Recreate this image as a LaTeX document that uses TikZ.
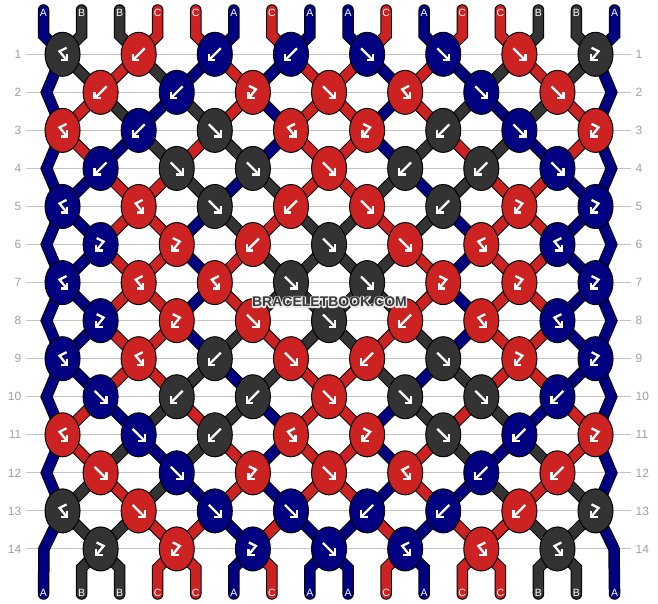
\documentclass[tikz,border=0pt]{standalone}
\usepackage{fontspec}
\setmainfont{Liberation Sans}
\usetikzlibrary{shapes.geometric}
\pgfdeclarelayer{lines}
\pgfdeclarelayer{threads}
\pgfsetlayers{lines,threads,main}
\definecolor{colA}{RGB}{0,0,128}
\definecolor{colB}{RGB}{51,51,51}
\definecolor{colC}{RGB}{204,34,34}
\definecolor{rowgray}{RGB}{196,196,196}
\definecolor{numgray}{RGB}{160,160,160}
\definecolor{wmgray}{RGB}{58,58,58}
\definecolor{wmhalo}{RGB}{232,232,232}

\expandafter\def\csname Srow0\endcsname{A,B,B,C,C,A,C,A,A,C,A,C,C,B,B,A}
\expandafter\def\csname Srow1\endcsname{A,B,C,B,A,C,A,C,C,A,C,A,B,C,B,A}
\expandafter\def\csname Srow2\endcsname{A,C,B,A,B,C,A,C,C,A,C,B,A,B,C,A}
\expandafter\def\csname Srow3\endcsname{A,C,A,B,C,B,A,C,C,A,B,C,B,A,C,A}
\expandafter\def\csname Srow4\endcsname{A,A,C,C,B,A,B,C,C,B,A,B,C,C,A,A}
\expandafter\def\csname Srow5\endcsname{A,A,C,C,A,B,C,B,B,C,B,A,C,C,A,A}
\expandafter\def\csname Srow6\endcsname{A,A,C,C,A,C,B,B,B,B,C,A,C,C,A,A}
\expandafter\def\csname Srow7\endcsname{A,A,C,C,A,C,B,B,B,B,C,A,C,C,A,A}
\expandafter\def\csname Srow8\endcsname{A,A,C,C,A,B,C,B,B,C,B,A,C,C,A,A}
\expandafter\def\csname Srow9\endcsname{A,A,C,C,B,A,B,C,C,B,A,B,C,C,A,A}
\expandafter\def\csname Srow10\endcsname{A,C,A,B,C,B,A,C,C,A,B,C,B,A,C,A}
\expandafter\def\csname Srow11\endcsname{A,C,B,A,B,C,A,C,C,A,C,B,A,B,C,A}
\expandafter\def\csname Srow12\endcsname{A,B,C,B,A,C,A,C,C,A,C,A,B,C,B,A}
\expandafter\def\csname Srow13\endcsname{A,B,B,C,C,A,C,A,A,C,A,C,C,B,B,A}

\expandafter\def\csname Krow1\endcsname{B/bf,C/b,A/b,A/b,A/f,A/f,C/f,B/fb}
\expandafter\def\csname Krow2\endcsname{C/b,A/b,C/fb,C/f,C/bf,A/f,C/f}
\expandafter\def\csname Krow3\endcsname{C/bf,A/b,B/f,C/bf,C/fb,B/b,A/f,C/fb}
\expandafter\def\csname Krow4\endcsname{A/b,B/f,B/f,C/f,B/b,B/b,A/f}
\expandafter\def\csname Krow5\endcsname{A/bf,C/bf,B/f,C/b,C/f,B/b,C/fb,A/fb}
\expandafter\def\csname Krow6\endcsname{A/fb,C/fb,C/b,B/f,C/f,C/bf,A/bf}
\expandafter\def\csname Krow7\endcsname{A/bf,C/bf,C/bf,B/f,B/f,C/fb,C/fb,A/fb}
\expandafter\def\csname Krow8\endcsname{A/fb,C/fb,C/f,B/f,C/b,C/bf,A/bf}
\expandafter\def\csname Krow9\endcsname{A/bf,C/bf,B/b,C/f,C/b,B/f,C/fb,A/fb}
\expandafter\def\csname Krow10\endcsname{A/f,B/b,B/b,C/f,B/f,B/f,A/b}
\expandafter\def\csname Krow11\endcsname{C/bf,A/f,B/b,C/bf,C/fb,B/f,A/b,C/fb}
\expandafter\def\csname Krow12\endcsname{C/f,A/f,C/fb,C/f,C/bf,A/b,C/b}
\expandafter\def\csname Krow13\endcsname{B/bf,C/f,A/f,A/f,A/b,A/b,C/b,B/fb}
\expandafter\def\csname Krow14\endcsname{B/fb,C/fb,A/fb,A/f,A/bf,C/bf,B/bf}

\tikzset{
  knot/.style={ellipse, draw=black, line width=1pt, minimum width=35pt, minimum height=44pt, inner sep=0pt},
  thread/.style={draw=#1, line width=9.5pt, line cap=round, line join=miter,
                 preaction={draw=black, line width=11.5pt, line cap=round, line join=miter}},
  icon/.style={draw=white, line width=2.3pt, line cap=butt, line join=miter},
  rowline/.style={draw=rowgray, line width=1pt},
  rownum/.style={text=numgray, font=\fontsize{12}{12}\selectfont, inner sep=0pt},
  strlbl/.style={text=white, font=\fontsize{10.5}{10.5}\selectfont, inner sep=0pt},
  wmtext/.style={font=\fontsize{14}{14}\selectfont\bfseries, inner sep=0pt, text=wmgray},
  arf/.pic={\draw[icon] (-6,-6) -- (5,5); \draw[icon] (6,-0.5) -- (6,6) -- (-0.5,6);},
  arb/.pic={\draw[icon] (6,-6) -- (-5,5); \draw[icon] (-6,-0.5) -- (-6,6) -- (0.5,6);},
  arfb/.pic={\draw[icon] (-4,-6.5) -- (3,-3) -- (-3.5,5); \draw[icon] (-4.5,0) -- (-4.5,6) -- (2,6);},
  arbf/.pic={\draw[icon] (4,-6.5) -- (-3,-3) -- (3.5,5); \draw[icon] (4.5,0) -- (4.5,6) -- (-2,6);},
}

\begin{document}
\begin{tikzpicture}[x=1pt,y=-1pt]
\useasboundingbox (0,0) rectangle (658,604);

% row guide lines and numbers
\foreach \r in {1,...,14}{
  \pgfmathsetmacro\ky{54.3+(\r-1)*38.05}
  \coordinate (ll-\r) at (26,\ky);
  \coordinate (lr-\r) at (631,\ky);
  \begin{pgfonlayer}{lines}
    \draw[rowline] (ll-\r) -- (lr-\r);
  \end{pgfonlayer}
  \node[rownum, anchor=east] (nl-\r) at (21.5,\ky) {\r};
  \node[rownum, anchor=west] (nr-\r) at (635.5,\ky) {\r};
}

% knots
\foreach \r in {1,...,14}{
  \edef\lst{\csname Krow\r\endcsname}
  \pgfmathsetmacro\ky{54.3+(\r-1)*38.05}
  \foreach \kc/\kt [count=\k] in \lst {
    \pgfmathsetmacro\kx{43.5+(2*\k-1.5+mod(\r+1,2))*38.07}
    \node[knot, fill=col\kc] (k-\r-\k) at (\kx,\ky) {};
    \edef\tmp{\noexpand\pic at (k-\r-\k) {ar\kt};}\tmp
  }
}

% edge vertices
\foreach \r in {2,4,...,12}{
  \pgfmathsetmacro\ky{54.3+(\r-1)*38.05}
  \coordinate (eL-\r) at (46.5,\ky);
  \coordinate (eR-\r) at (611.5,\ky);
}
\pgfmathsetmacro\ky{54.3+13*38.05}
\coordinate (eL-14) at (44,\ky);
\coordinate (eR-14) at (614,\ky);

% top and bottom ends, labels
\edef\lst{\csname Srow0\endcsname}
\foreach \sc [count=\p] in \lst {
  \pgfmathsetmacro\px{43.5+(\p-1)*38.07}
  \coordinate (top-\p) at (\px,10);
  \coordinate (topb-\p) at (\px,35.3);
  \node[strlbl] (tl-\p) at (\px,12.5) {\sc};
}
\edef\lst{\csname Srow13\endcsname}
\foreach \sc [count=\p] in \lst {
  \pgfmathsetmacro\px{43.5+(\p-1)*38.07}
  \coordinate (bot-\p) at (\px,594);
  \coordinate (botb-\p) at (\px,568);
  \node[strlbl] (bl-\p) at (\px,593) {\sc};
}

% watermark: light outline drawn as stroked text, then filled text on top
\node[wmtext, text=wmhalo] (wmh) at (329.5,302)
  {\special{pdf:literal direct 2.6 w 1 j 1 Tr}BRACELETBOOK.COM\special{pdf:literal direct 0 Tr}};
\node[wmtext] (wm) at (329.5,302) {BRACELETBOOK.COM};

\begin{pgfonlayer}{threads}
  % inner threads between rows
  \foreach \r in {1,...,13}{
    \edef\lst{\csname Srow\r\endcsname}
    \pgfmathtruncatemacro\rn{\r+1}
    \foreach \sc [count=\p] in \lst {
      \ifnum\p>1 \ifnum\p<16
        \pgfmathtruncatemacro\ka{int((\p+mod(\r,2))/2)}
        \pgfmathtruncatemacro\kb{int((\p+mod(\rn,2))/2)}
        \draw[thread=col\sc] (k-\r-\ka.center) -- (k-\rn-\kb.center);
      \fi\fi
    }
  }
  % edge threads
  \foreach \r in {2,4,...,12}{
    \pgfmathtruncatemacro\rp{\r-1}
    \pgfmathtruncatemacro\rn{\r+1}
    \draw[thread=colA] (k-\rp-1.center) -- (eL-\r) -- (k-\rn-1.center);
    \draw[thread=colA] (k-\rp-8.center) -- (eR-\r) -- (k-\rn-8.center);
  }
  \draw[thread=colA] (k-13-1.center) -- (eL-14) -- (bot-1);
  \draw[thread=colA] (k-13-8.center) -- (eR-14) -- (bot-16);
  % top ends
  \edef\lst{\csname Srow0\endcsname}
  \foreach \sc [count=\p] in \lst {
    \pgfmathtruncatemacro\ka{int((\p+1)/2)}
    \draw[thread=col\sc] (top-\p) -- (topb-\p) -- (k-1-\ka.center);
  }
  % bottom ends
  \edef\lst{\csname Srow13\endcsname}
  \foreach \sc [count=\p] in \lst {
    \ifnum\p>1 \ifnum\p<16
      \pgfmathtruncatemacro\kb{int(\p/2)}
      \draw[thread=col\sc] (k-14-\kb.center) -- (botb-\p) -- (bot-\p);
    \fi\fi
  }
\end{pgfonlayer}
\end{tikzpicture}
\end{document}
